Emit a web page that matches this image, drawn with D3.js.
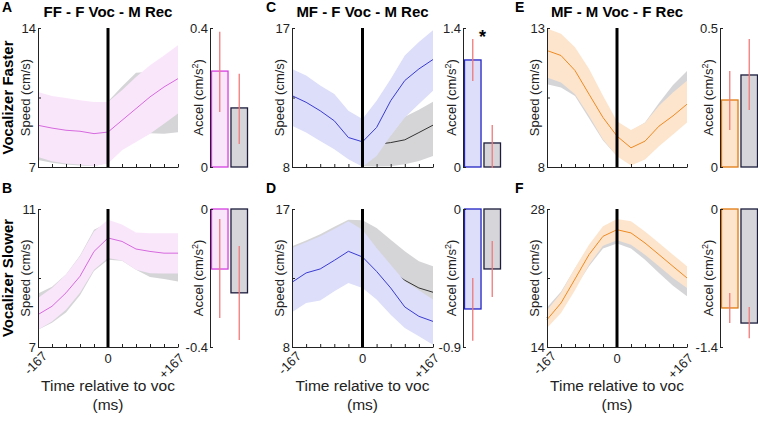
<!DOCTYPE html>
<html>
<head>
<meta charset="utf-8">
<script src="https://cdn.jsdelivr.net/npm/d3@7"></script>
<style>
  body { margin: 0; background: #fff; }
  svg { font-family: "Liberation Sans", Arial, sans-serif; }
  .tick text { font-size: 13px; fill: #222; }
  .domain { stroke: #222; }
  .tick line { stroke: #222; }
</style>
</head>
<body>
<div id="chart"></div>
<script>
// time samples (ms) relative to vocalization onset
const times = [-167, -133.6, -100.2, -66.8, -33.4, 0, 33.4, 66.8, 100.2, 133.6, 167];

// Panel A: FF - F Voc - M Rec, vocalizer faster
const aVocMean = [9.10, 8.96, 8.85, 8.80, 8.68, 8.76, 9.35, 9.94, 10.53, 11.03, 11.45];
const aVocHi   = [10.78, 10.58, 10.47, 10.36, 10.27, 10.27, 10.86, 11.53, 12.12, 12.62, 13.13];
const aVocLo   = [7.50, 7.29, 7.17, 7.12, 7.05, 7.17, 7.84, 8.26, 8.68, 9.18, 9.69];
const aRecMean = [8.70, 8.55, 8.45, 8.45, 8.50, 8.75, 9.50, 10.05, 10.30, 10.15, 10.10];
const aRecHi   = [10.0, 9.9, 9.8, 9.8, 9.9, 10.3, 11.05, 11.75, 11.8, 11.6, 11.5];
const aRecLo   = [7.35, 7.22, 7.12, 7.08, 7.05, 7.20, 7.90, 8.30, 8.70, 8.68, 8.75];

// Panel B: vocalizer slower
const bVocMean = [7.94, 8.18, 8.57, 9.05, 9.77, 10.16, 10.06, 9.84, 9.77, 9.72, 9.72];
const bVocHi   = [8.42, 8.71, 9.10, 9.63, 10.35, 10.69, 10.55, 10.32, 10.30, 10.30, 10.30];
const bVocLo   = [7.50, 7.74, 8.08, 8.57, 9.24, 9.58, 9.51, 9.24, 9.14, 9.13, 9.13];
const bRecMean = [8.00, 8.20, 8.55, 9.05, 9.75, 10.10, 9.95, 9.70, 9.60, 9.55, 9.50];
const bRecHi   = [8.55, 8.75, 9.10, 9.65, 10.40, 10.60, 10.40, 10.15, 10.10, 10.10, 10.05];
const bRecLo   = [7.50, 7.70, 8.00, 8.50, 9.20, 9.53, 9.50, 9.24, 9.03, 8.97, 8.90];

// Panel C: MF - F Voc - M Rec, vocalizer faster
const cVocMean = [12.62, 12.19, 11.64, 10.99, 9.91, 9.63, 10.56, 12.29, 13.60, 14.35, 14.96];
const cVocHi   = [14.35, 13.92, 13.27, 12.73, 11.64, 11.10, 12.29, 13.70, 15.22, 16.09, 16.85];
const cVocLo   = [10.67, 10.23, 9.69, 9.15, 8.50, 8.02, 8.72, 10.02, 11.21, 12.08, 12.94];
const cRecMean = [12.4, 12.0, 11.4, 10.8, 9.9, 9.6, 9.47, 9.58, 9.76, 10.23, 10.71];
const cRecHi   = [14.0, 13.6, 13.0, 12.5, 11.3, 10.9, 10.3, 10.05, 11.25, 11.71, 12.23];
const cRecLo   = [10.9, 10.4, 9.9, 9.3, 8.7, 8.05, 8.03, 8.05, 8.17, 8.39, 8.72];

// Panel D: vocalizer slower
const dVocMean = [12.22, 12.83, 13.09, 13.65, 14.24, 13.87, 12.93, 11.85, 10.61, 10.00, 9.67];
const dVocHi   = [14.46, 14.83, 15.22, 15.70, 16.20, 15.65, 14.46, 13.37, 12.28, 11.70, 11.09];
const dVocLo   = [10.26, 10.87, 11.04, 11.63, 12.17, 11.85, 11.09, 10.11, 9.24, 8.70, 8.15];
const dRecMean = [12.4, 12.9, 13.2, 13.8, 14.3, 14.3, 13.7, 13.0, 12.35, 11.85, 11.57];
const dRecHi   = [14.57, 14.95, 15.35, 15.85, 16.30, 16.26, 15.76, 15.0, 14.24, 13.59, 13.26];
const dRecLo   = [10.4, 11.0, 11.2, 11.8, 12.3, 12.2, 11.7, 11.2, 10.8, 10.6, 10.5];

// Panel E: MF - M Voc - F Rec, vocalizer faster
const eVocMean = [12.19, 12.01, 11.47, 10.62, 9.78, 9.11, 8.69, 8.93, 9.47, 9.84, 10.26];
const eVocHi   = [12.98, 12.79, 12.31, 11.53, 10.56, 9.65, 9.33, 9.59, 10.20, 10.68, 11.10];
const eVocLo   = [11.22, 11.04, 10.62, 9.84, 8.99, 8.39, 8.05, 8.27, 8.75, 9.17, 9.60];
const eRecMean = [12.0, 11.8, 11.3, 10.5, 9.7, 9.0, 8.8, 9.2, 9.8, 10.3, 10.7];
const eRecHi   = [12.8, 12.6, 12.1, 11.3, 10.4, 9.6, 9.3, 9.6, 10.3, 10.95, 11.45];
const eRecLo   = [10.98, 10.86, 10.55, 9.75, 8.95, 8.4, 8.2, 8.5, 9.1, 9.6, 9.9];

// Panel F: vocalizer slower
const fVocMean = [16.77, 18.46, 20.90, 23.37, 25.23, 25.90, 25.57, 24.55, 23.37, 22.18, 21.00];
const fVocHi   = [17.72, 19.48, 22.01, 24.38, 26.24, 26.99, 26.75, 25.73, 24.55, 23.37, 22.18];
const fVocLo   = [15.93, 17.45, 19.75, 22.35, 24.28, 24.82, 24.38, 23.37, 22.18, 21.00, 19.99];
const fRecMean = [17.0, 18.6, 21.0, 23.3, 24.9, 25.4, 25.0, 23.9, 22.6, 21.4, 20.3];
const fRecHi   = [18.0, 19.6, 22.0, 24.2, 25.9, 26.4, 26.0, 25.0, 23.8, 22.6, 21.5];
const fRecLo   = [16.1, 17.6, 20.0, 22.2, 24.0, 24.5, 24.0, 22.86, 21.51, 20.22, 19.14];

// y ranges of the speed plots
const speedRanges = { A: [7, 14], B: [7, 11], C: [8, 17], D: [8, 17], E: [8, 13], F: [14, 28] };

// acceleration bars: [vocalizer, recipient], with error ranges [lo, hi]
const barGroups = ["voc", "rec"];
const aAccel = [0.276, 0.170];  const aErr = [[0.158, 0.389], [0.066, 0.268]];
const bAccel = [-0.174, -0.243]; const bErr = [[-0.316, -0.029], [-0.380, -0.107]];
const cAccel = [1.078, 0.242];  const cErr = [[0.866, 1.289], [-0.01, 0.423]];
const dAccel = [-0.652, -0.391]; const dErr = [[-0.86, -0.45], [-0.574, -0.209]];
const eAccel = [0.241, 0.331];  const eErr = [[0.133, 0.345], [0.205, 0.460]];
const fAccel = [-1.004, -1.157]; const fErr = [[-1.157, -0.852], [-1.31, -0.994]];
const accelRanges = { A: [0, 0.4], B: [-0.4, 0], C: [0, 1.4], D: [-0.9, 0], E: [0, 0.5], F: [-1.4, 0] };

const titles = ["FF - F Voc - M Rec", "MF - F Voc - M Rec", "MF - M Voc - F Rec"];
const rowLabels = ["Vocalizer Faster", "Vocalizer Slower"];

const palette = [
  { line: "#d66ade", fill: "#fae6fb", stroke: "#d640e0" },
  { line: "#3b3bd2", fill: "#dcdefa", stroke: "#2222c4" },
  { line: "#ef8a22", fill: "#fde5cd", stroke: "#e07a10" }
];
const grayFill = "#d5d5d8", grayLine = "#333", grayBarStroke = "#1c1c3c", errColor = "#f07a7a";

const width = 758, height = 421;
const rows = [{ top: 28, bottom: 167 }, { top: 209, bottom: 347 }];
const cols = [
  { x0: 38, x1: 178, bar: 210, letter: 2 },
  { x0: 292, x1: 433, bar: 463, letter: 266 },
  { x0: 547, x1: 687, bar: 720, letter: 515 }
];

const svg = d3.select("#chart").append("svg")
  .attr("width", width)
  .attr("height", height);

const panels = [
  { id: "A", r: 0, c: 0, voc: [aVocMean, aVocHi, aVocLo], rec: [aRecMean, aRecHi, aRecLo], acc: aAccel, err: aErr },
  { id: "B", r: 1, c: 0, voc: [bVocMean, bVocHi, bVocLo], rec: [bRecMean, bRecHi, bRecLo], acc: bAccel, err: bErr },
  { id: "C", r: 0, c: 1, voc: [cVocMean, cVocHi, cVocLo], rec: [cRecMean, cRecHi, cRecLo], acc: cAccel, err: cErr, star: true },
  { id: "D", r: 1, c: 1, voc: [dVocMean, dVocHi, dVocLo], rec: [dRecMean, dRecHi, dRecLo], acc: dAccel, err: dErr },
  { id: "E", r: 0, c: 2, voc: [eVocMean, eVocHi, eVocLo], rec: [eRecMean, eRecHi, eRecLo], acc: eAccel, err: eErr },
  { id: "F", r: 1, c: 2, voc: [fVocMean, fVocHi, fVocLo], rec: [fRecMean, fRecHi, fRecLo], acc: fAccel, err: fErr }
];

const fmt = d => String(d);

panels.forEach(p => {
  const row = rows[p.r], col = cols[p.c], col3 = palette[p.c];
  const g = svg.append("g");

  const x = d3.scaleLinear().domain([-167, 167]).range([col.x0, col.x1]);
  const yr = speedRanges[p.id];
  const y = d3.scaleLinear().domain(yr).range([row.bottom, row.top]);

  const area = d3.area().x((d, i) => x(times[i])).y0(d => y(d[1])).y1(d => y(d[0]));
  const line = d3.line().x((d, i) => x(times[i])).y(d => y(d));
  const band = (hi, lo) => hi.map((v, i) => [v, lo[i]]);

  // recipient (gray) underneath, vocalizer on top
  g.append("path").attr("d", area(band(p.rec[1], p.rec[2]))).attr("fill", grayFill);
  g.append("path").attr("d", line(p.rec[0])).attr("fill", "none").attr("stroke", grayLine).attr("stroke-width", 1);
  g.append("path").attr("d", area(band(p.voc[1], p.voc[2]))).attr("fill", col3.fill);
  g.append("path").attr("d", line(p.voc[0])).attr("fill", "none").attr("stroke", col3.line).attr("stroke-width", 1);

  // axes
  const mid = (yr[0] + yr[1]) / 2;
  g.append("g")
    .attr("transform", `translate(${col.x0},0)`)
    .call(d3.axisLeft(y).tickValues([yr[0], mid, yr[1]]).tickSizeInner(-3).tickSizeOuter(0).tickPadding(2)
      .tickFormat(d => d === mid ? "" : fmt(d)));
  g.append("g")
    .attr("transform", `translate(0,${row.bottom})`)
    .call(d3.axisBottom(x).tickValues(times).tickSizeInner(-3).tickSizeOuter(0).tickFormat(""));

  // voc onset line
  g.append("line")
    .attr("x1", x(0)).attr("x2", x(0))
    .attr("y1", row.top).attr("y2", row.bottom)
    .attr("stroke", "#000").attr("stroke-width", 3);

  // speed label
  g.append("text")
    .attr("transform", `translate(${col.x0 - 8},${(row.top + row.bottom) / 2}) rotate(-90)`)
    .attr("text-anchor", "middle")
    .style("font-size", "13px")
    .style("fill", "#222")
    .text("Speed (cm/s)");

  // bar chart
  const ar = accelRanges[p.id];
  const yb = d3.scaleLinear().domain(ar).range([row.bottom, row.top]);
  const xb = d3.scaleBand().domain(barGroups).range([col.bar + 1, col.bar + 38]).paddingInner(0.1);

  g.selectAll(".bar").data(p.acc).enter().append("rect")
    .attr("x", (d, i) => xb(barGroups[i]) + 0.5)
    .attr("width", xb.bandwidth() - 1)
    .attr("y", d => yb(Math.max(d, 0)))
    .attr("height", d => Math.abs(yb(d) - yb(0)))
    .attr("fill", (d, i) => i === 0 ? col3.fill : "#d6d6da")
    .attr("stroke", (d, i) => i === 0 ? col3.stroke : grayBarStroke)
    .attr("stroke-width", 1.3);

  g.selectAll(".err").data(p.err).enter().append("line")
    .attr("x1", (d, i) => xb(barGroups[i]) + xb.bandwidth() / 2)
    .attr("x2", (d, i) => xb(barGroups[i]) + xb.bandwidth() / 2)
    .attr("y1", d => yb(d[0]))
    .attr("y2", d => yb(d[1]))
    .attr("stroke", errColor)
    .attr("stroke-width", 1.3);

  g.append("g")
    .attr("transform", `translate(${col.bar},0)`)
    .call(d3.axisLeft(yb).tickValues(ar).tickSizeInner(-3).tickSizeOuter(0).tickPadding(2).tickFormat(fmt));

  g.append("text")
    .attr("transform", `translate(${col.bar - 7},${(row.top + row.bottom) / 2}) rotate(-90)`)
    .attr("text-anchor", "middle")
    .style("font-size", "13px")
    .style("fill", "#222")
    .html('Accel (cm/s<tspan dy="-5" font-size="9">2</tspan><tspan dy="5">)</tspan>');

  if (p.star) {
    g.append("text")
      .attr("x", xb("voc") + xb.bandwidth() + 1)
      .attr("y", row.top + 15)
      .attr("text-anchor", "middle")
      .style("font-size", "18px")
      .style("font-weight", "bold")
      .text("*");
  }

  // panel letter
  g.append("text")
    .attr("x", col.letter)
    .attr("y", p.r === 0 ? 12 : 193)
    .style("font-size", "14px")
    .style("font-weight", "bold")
    .text(p.id);

  if (p.r === 0) {
    g.append("text")
      .attr("x", (col.x0 + col.x1) / 2)
      .attr("y", 17)
      .attr("text-anchor", "middle")
      .style("font-size", "15px")
      .style("font-weight", "bold")
      .text(titles[p.c]);
  } else {
    // x tick labels and axis label on bottom row
    [[-167, "-167", 10, 10], [167, "+167", 7, 12]].forEach(([v, s, dx, dy]) => {
      g.append("text")
        .attr("transform", `translate(${x(v) + dx},${row.bottom + dy}) rotate(-45)`)
        .attr("text-anchor", "end")
        .style("font-size", "13px")
        .style("fill", "#222")
        .text(s);
    });
    g.append("text")
      .attr("x", x(0)).attr("y", row.bottom + 16)
      .attr("text-anchor", "middle")
      .style("font-size", "13px")
      .style("fill", "#222")
      .text("0");
    g.append("text")
      .attr("x", x(0)).attr("y", 391)
      .attr("text-anchor", "middle")
      .style("font-size", "15.5px")
      .style("fill", "#222")
      .text("Time relative to voc");
    g.append("text")
      .attr("x", x(0)).attr("y", 410)
      .attr("text-anchor", "middle")
      .style("font-size", "15.5px")
      .style("fill", "#222")
      .text("(ms)");
  }
});

// row labels
rows.forEach((row, i) => {
  svg.append("text")
    .attr("transform", `translate(13,${(row.top + row.bottom) / 2}) rotate(-90)`)
    .attr("text-anchor", "middle")
    .style("font-size", "15px")
    .style("font-weight", "bold")
    .text(rowLabels[i]);
});
</script>
</body>
</html>
